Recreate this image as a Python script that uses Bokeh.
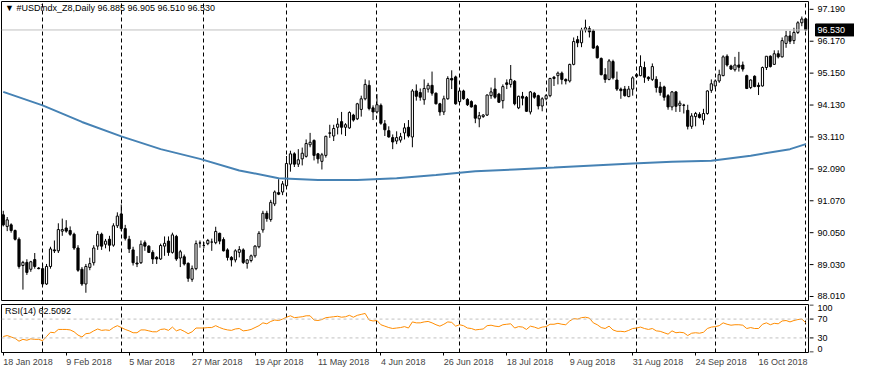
from bokeh.plotting import figure
from bokeh.layouts import column, row
from bokeh.models import (ColumnDataSource, Range1d, FixedTicker, Grid, Span, Label)
from bokeh.core.properties import value
from bokeh.embed import file_html
from bokeh.resources import INLINE

symbol = "#USDindx_Z8,Daily"

opens = [
    90.62, 90.25, 90.30, 90.12, 89.84, 89.00, 89.10, 88.88, 89.19, 88.92,
    88.90, 88.41, 88.97, 89.50, 89.47, 90.10, 90.20, 90.12, 90.00, 89.56,
    88.88, 88.41, 88.94, 89.09, 89.62, 90.00, 89.68, 89.84, 89.65, 90.27,
    90.65, 90.18, 89.84, 89.50, 89.08, 89.09, 89.73, 89.62, 89.42, 89.26,
    89.21, 89.62, 89.78, 89.42, 89.93, 89.24, 89.28, 89.07, 88.56, 88.90,
    89.72, 89.64, 89.70, 89.75, 89.73, 90.03, 89.83, 89.50, 89.26, 89.18,
    89.42, 89.50, 89.07, 89.16, 89.31, 89.60, 90.14, 90.67, 90.47, 90.97,
    91.33, 91.35, 91.55, 92.24, 92.57, 92.24, 92.41, 92.49, 92.86, 93.00,
    92.57, 92.33, 92.52, 93.24, 93.14, 93.42, 93.60, 93.42, 93.40, 93.81,
    93.69, 93.99, 94.33, 94.76, 94.04, 93.91, 94.12, 93.53, 93.31, 93.09,
    92.98, 93.01, 93.24, 93.42, 93.11, 94.58, 94.53, 94.30, 94.64, 94.76,
    94.51, 94.17, 93.91, 94.33, 94.98, 95.03, 94.24, 94.58, 94.31, 94.24,
    94.12, 93.69, 93.76, 93.81, 94.43, 94.64, 94.48, 94.27, 94.84, 94.79,
    94.89, 94.04, 94.41, 94.38, 93.91, 94.51, 94.43, 94.10, 94.33, 94.43,
    95.02, 95.07, 95.15, 94.95, 94.90, 95.43, 96.22, 96.12, 96.53, 96.57,
    96.50, 96.00, 95.62, 95.10, 94.95, 95.52, 94.93, 94.64, 94.64, 94.40,
    94.64, 95.10, 95.07, 95.33, 95.02, 94.95, 94.95, 94.71, 94.71, 94.43,
    94.07, 94.55, 94.12, 94.13, 93.96, 93.45, 93.76, 93.83, 93.65, 93.86,
    94.60, 94.74, 94.90, 95.07, 95.69, 95.38, 95.26, 95.41, 95.41, 95.07,
    94.69, 95.05, 94.76, 94.74, 95.33, 95.69, 95.43, 95.77, 95.67, 96.10,
    96.34, 96.19, 96.45, 96.76, 96.885,
]
highs = [
    90.75, 90.55, 90.35, 90.15, 89.90, 89.15, 89.20, 89.15, 89.40, 88.95,
    89.05, 89.05, 89.60, 89.80, 90.35, 90.50, 90.45, 90.25, 90.05, 89.65,
    88.95, 89.05, 89.25, 89.65, 90.10, 90.05, 89.85, 89.95, 90.35, 90.70,
    90.95, 90.30, 89.95, 89.60, 89.30, 89.80, 89.80, 89.65, 89.49, 89.30,
    89.70, 89.93, 89.93, 90.05, 89.98, 89.50, 89.35, 89.10, 89.00, 89.80,
    89.80, 89.75, 89.85, 89.86, 90.24, 90.05, 89.90, 89.55, 89.30, 89.52,
    89.62, 89.55, 89.20, 89.35, 89.65, 90.10, 90.75, 90.75, 91.10, 91.40,
    91.76, 91.70, 92.50, 92.67, 92.62, 92.72, 92.77, 93.03, 93.24, 93.03,
    92.60, 92.60, 93.15, 93.50, 93.50, 93.71, 93.91, 93.55, 93.93, 93.85,
    94.20, 94.43, 94.95, 94.92, 94.12, 94.48, 94.18, 93.65, 93.45, 93.19,
    93.29, 93.24, 93.55, 93.65, 94.64, 94.79, 94.66, 94.95, 94.84, 95.20,
    94.53, 94.20, 94.43, 95.05, 95.24, 95.07, 94.60, 94.62, 94.35, 94.28,
    94.15, 93.91, 93.84, 94.47, 94.69, 95.00, 94.52, 94.79, 94.95, 95.41,
    94.93, 94.43, 94.55, 94.42, 94.58, 94.55, 94.46, 94.38, 94.48, 95.00,
    95.06, 95.20, 95.20, 94.98, 95.45, 96.29, 96.34, 96.60, 96.86, 96.65,
    96.55, 96.05, 95.65, 95.31, 95.60, 95.58, 95.20, 94.69, 94.74, 94.74,
    95.05, 95.15, 95.72, 95.52, 95.05, 95.46, 95.05, 94.87, 94.75, 94.48,
    94.58, 94.58, 94.27, 94.17, 94.14, 93.87, 93.91, 93.90, 94.01, 94.60,
    94.95, 94.95, 95.26, 95.72, 95.75, 95.42, 95.67, 95.83, 95.52, 95.10,
    94.95, 95.08, 94.85, 95.36, 95.69, 95.72, 95.88, 95.88, 96.29, 96.50,
    96.50, 96.60, 96.81, 96.96, 96.905,
]
lows = [
    90.25, 90.10, 90.05, 89.80, 88.90, 88.23, 88.70, 88.80, 88.90, 88.88,
    88.35, 88.38, 88.90, 89.40, 89.40, 89.95, 90.05, 89.95, 89.50, 88.80,
    88.35, 88.13, 88.85, 89.00, 89.50, 89.50, 89.55, 89.45, 89.60, 90.20,
    90.10, 89.80, 89.40, 89.00, 88.95, 89.05, 89.47, 89.40, 89.05, 89.05,
    89.18, 89.31, 89.31, 89.38, 89.15, 88.95, 89.00, 88.48, 88.48, 88.85,
    89.57, 89.55, 89.65, 89.47, 89.68, 89.68, 89.45, 89.16, 88.97, 89.10,
    89.26, 89.05, 88.90, 89.10, 89.25, 89.55, 90.05, 90.40, 90.40, 90.90,
    91.25, 91.25, 91.50, 92.00, 92.15, 92.15, 92.20, 92.45, 92.78, 92.36,
    92.26, 92.07, 92.45, 93.08, 92.98, 93.19, 93.19, 93.14, 93.37, 93.60,
    93.65, 93.76, 94.28, 93.96, 93.65, 93.86, 93.50, 93.14, 93.09, 92.72,
    92.88, 92.93, 93.03, 93.09, 92.78, 94.27, 94.27, 94.14, 94.53, 94.43,
    94.15, 93.79, 93.81, 94.30, 94.64, 94.14, 94.20, 94.30, 94.10, 94.05,
    93.55, 93.42, 93.72, 93.78, 94.33, 94.33, 94.20, 94.02, 94.64, 94.69,
    94.12, 94.00, 94.12, 93.91, 93.83, 94.33, 93.99, 93.93, 94.28, 94.38,
    94.74, 94.79, 94.79, 94.79, 94.85, 95.40, 95.98, 95.98, 96.45, 96.29,
    95.93, 95.62, 95.08, 94.84, 94.92, 94.95, 94.58, 94.33, 94.40, 94.38,
    94.43, 95.00, 95.05, 94.84, 94.90, 94.90, 94.53, 94.43, 94.27, 93.98,
    93.96, 93.91, 93.91, 93.86, 93.35, 93.37, 93.45, 93.70, 93.50, 93.82,
    94.52, 94.65, 94.84, 95.05, 95.36, 95.25, 95.20, 95.20, 95.20, 94.64,
    94.64, 94.70, 94.45, 94.72, 95.25, 95.33, 95.41, 95.62, 95.65, 95.96,
    96.08, 96.08, 96.40, 96.65, 96.51,
]
closes = [
    90.30, 90.46, 90.12, 89.84, 88.97, 89.10, 88.78, 89.12, 88.97, 88.90,
    88.41, 88.97, 89.53, 89.47, 90.15, 90.15, 90.10, 90.00, 89.56, 88.85,
    88.41, 88.97, 89.06, 89.56, 90.00, 89.62, 89.78, 89.65, 90.27, 90.58,
    90.18, 89.87, 89.53, 89.09, 89.05, 89.68, 89.62, 89.42, 89.21, 89.21,
    89.64, 89.71, 89.42, 89.98, 89.21, 89.44, 89.05, 88.59, 88.90, 89.70,
    89.72, 89.64, 89.80, 89.75, 90.09, 89.78, 89.47, 89.26, 89.18, 89.47,
    89.51, 89.10, 89.18, 89.31, 89.62, 90.03, 90.67, 90.50, 91.02, 91.35,
    91.28, 91.61, 92.26, 92.57, 92.24, 92.38, 92.59, 92.90, 92.94, 92.52,
    92.41, 92.54, 93.13, 93.23, 93.38, 93.52, 93.42, 93.50, 93.89, 93.65,
    94.17, 94.33, 94.79, 94.02, 93.91, 94.14, 93.55, 93.34, 93.11, 92.95,
    93.09, 93.12, 93.40, 93.14, 94.58, 94.41, 94.38, 94.66, 94.76, 94.51,
    94.17, 93.91, 94.33, 94.98, 94.93, 94.17, 94.58, 94.33, 94.14, 94.07,
    93.71, 93.79, 93.81, 94.45, 94.55, 94.38, 94.22, 94.72, 94.79, 94.95,
    94.17, 94.41, 94.35, 93.93, 94.55, 94.38, 94.10, 94.33, 94.43, 94.98,
    94.98, 95.15, 94.95, 94.90, 95.43, 96.16, 96.12, 96.53, 96.60, 96.47,
    95.95, 95.64, 95.10, 94.95, 95.54, 95.00, 94.64, 94.59, 94.43, 94.64,
    95.00, 95.05, 95.36, 95.02, 94.97, 95.36, 94.69, 94.53, 94.38, 94.07,
    94.55, 94.09, 94.19, 94.12, 93.45, 93.78, 93.86, 93.73, 93.86, 94.58,
    94.81, 94.90, 95.10, 95.67, 95.41, 95.28, 95.41, 95.34, 95.28, 94.66,
    94.93, 94.72, 94.72, 95.33, 95.69, 95.36, 95.77, 95.67, 96.19, 96.34,
    96.17, 96.45, 96.76, 96.88, 96.53,
]

# 200-period moving average, read at every 10th bar
ma_bars = [0, 10, 20, 30, 40, 50, 60, 70, 80, 90, 100, 110, 120, 130, 140,
           150, 160, 170, 180, 190, 200, 204]
ma_vals = [94.55, 94.12, 93.59, 93.13, 92.72, 92.41, 92.04, 91.79, 91.73, 91.73,
           91.79, 91.89, 92.01, 92.07, 92.13, 92.20, 92.26, 92.32, 92.35, 92.51,
           92.72, 92.88]

rsi = [
    33, 35, 32, 29, 23, 27, 25, 28, 27, 27,
    24, 33, 42, 41, 48, 48, 48, 47, 43, 36,
    32, 39, 40, 45, 49, 46, 47, 46, 52, 56,
    52, 48, 45, 41, 41, 47, 47, 45, 43, 43,
    48, 49, 46, 53, 45, 48, 44, 39, 43, 51,
    51, 51, 52, 52, 56, 52, 49, 47, 46, 49,
    50, 45, 46, 48, 52, 56, 62, 60, 65, 68,
    67, 70, 74, 77, 73, 74, 75, 77, 77, 68,
    67, 69, 73, 74, 75, 76, 74, 75, 78, 74,
    78, 80, 82, 68, 66, 67, 58, 55, 52, 50,
    51, 52, 54, 51, 64, 62, 62, 64, 65, 62,
    58, 55, 59, 64, 63, 55, 58, 56, 51, 50,
    47, 48, 49, 56, 57, 55, 54, 58, 59, 60,
    51, 54, 53, 48, 55, 53, 50, 53, 54, 59,
    59, 61, 59, 58, 66, 71, 70, 73, 74, 72,
    62, 58, 52, 50, 55, 47, 44, 44, 43, 46,
    50, 51, 53, 50, 48, 50, 45, 44, 41, 38,
    45, 41, 42, 41, 35, 40, 41, 40, 42, 50,
    53, 54, 56, 62, 59, 57, 58, 58, 57, 50,
    52, 50, 50, 59, 62, 58, 61, 60, 66, 67,
    64, 67, 69, 70, 62.5092,
]

price_ticks = [88.010, 89.030, 90.050, 91.070, 92.090, 93.110, 94.130, 95.150, 96.170, 97.190]
rsi_mid_ticks = [30, 70]
rsi_top_tick = [100]
rsi_bottom_tick = [0]
rsi_levels = [30, 70]
month_bars = [10, 30, 51, 72, 95, 116, 138, 161, 181, 204]
date_bars = [0, 16, 32, 48, 64, 80, 96, 112, 128, 144, 160, 176, 192]
date_labels = ["18 Jan 2018", "9 Feb 2018", "5 Mar 2018", "27 Mar 2018", "19 Apr 2018",
               "11 May 2018", "4 Jun 2018", "26 Jun 2018", "18 Jul 2018", "9 Aug 2018",
               "31 Aug 2018", "24 Sep 2018", "16 Oct 2018"]

FONT = "Liberation Sans"
FS = "9px"

n = len(closes)
idx = list(range(n))
src = ColumnDataSource(dict(
    x=idx, o=opens, h=highs, l=lows, c=closes,
    top=[max(a, b) for a, b in zip(opens, closes)],
    bot=[min(a, b) for a, b in zip(opens, closes)],
    fill=["white" if c >= o else "black" for o, c in zip(opens, closes)],
))

x0, x1 = -0.45, 204.7
xr = Range1d(x0, x1)
ylo, yhi = 87.85, 97.44
main_yr = Range1d(ylo, yhi)
rsi_yr = Range1d(-1, 101)

MAIN_H, RSI_H = 301, 73
LEFT_W, AX_W = 809, 45


def style(p):
    p.grid.visible = False
    p.background_fill_color = "white"
    p.border_fill_color = "white"


# ---------------- main price panel ----------------
main = figure(width=LEFT_W, height=MAIN_H, x_range=xr, y_range=main_yr,
              x_axis_location=None, y_axis_location=None,
              output_backend="svg", toolbar_location=None,
              min_border_left=1, min_border_right=1, min_border_top=1, min_border_bottom=0)
style(main)
main.outline_line_color = "black"
main.add_layout(Grid(dimension=0, ticker=FixedTicker(ticks=month_bars), grid_line_color="black",
                     grid_line_dash="4 3", grid_line_width=1))
main.add_layout(Span(location=closes[-1], dimension="width", line_color="#C0C0C0", line_width=1))
main.segment(x0="x", y0="l", x1="x", y1="h", source=src, line_color="black", line_width=1)
main.vbar(x="x", width=0.55, top="top", bottom="bot", source=src,
          fill_color="fill", line_color="black", line_width=1)
main.line(ma_bars, ma_vals, line_color="#4682B4", line_width=2)

header = "\u25BC " + symbol + "  " + " ".join(
    "%.3f" % v for v in (opens[-1], highs[-1], lows[-1], closes[-1]))
main.add_layout(Label(x=x0 + 0.9, y=yhi - 0.06, text=header, text_baseline="top",
                      text_font=FONT, text_font_size=FS, text_color="black"))

# price scale (right)
pax = figure(width=AX_W, height=MAIN_H, x_range=Range1d(0, AX_W), y_range=main_yr,
             x_axis_location=None, y_axis_location=None,
             output_backend="svg", toolbar_location=None,
             min_border_left=0, min_border_right=0, min_border_top=1, min_border_bottom=0)
style(pax)
pax.outline_line_color = None
pax.segment(x0=[0] * len(price_ticks), y0=price_ticks, x1=[4] * len(price_ticks), y1=price_ticks,
            line_color="black", line_width=1)
pax.text(x=[8] * len(price_ticks), y=price_ticks, text=["%.3f" % t for t in price_ticks],
         text_baseline="middle", text_align="left", text_font=value(FONT),
         text_font_size=value(FS), text_color="black")
pax.rect(x=[25.5], y=[closes[-1]], width=[39], height=[12], height_units="screen",
         fill_color="black", line_color="black")
pax.text(x=[8], y=[closes[-1]], text=["%.3f" % closes[-1]], text_baseline="middle",
         text_align="left", text_font=value(FONT), text_font_size=value(FS), text_color="white")

# ---------------- RSI panel ----------------
rp = figure(width=LEFT_W, height=RSI_H, x_range=xr, y_range=rsi_yr,
            y_axis_location=None, output_backend="svg", toolbar_location=None,
            min_border_left=1, min_border_right=1, min_border_top=3, min_border_bottom=18)
style(rp)
rp.outline_line_color = "black"
rp.add_layout(Grid(dimension=0, ticker=FixedTicker(ticks=month_bars), grid_line_color="black",
                   grid_line_dash="4 3", grid_line_width=1))
for lv in rsi_levels:
    rp.add_layout(Span(location=lv, dimension="width", line_color="#C0C0C0",
                       line_dash="3 3", line_width=1))
rp.line(idx, rsi, line_color="#FF8C00", line_width=1)
rp.add_layout(Label(x=x0 + 0.9, y=97, text="RSI(14) %.4f" % rsi[-1], text_baseline="top",
                    text_font=FONT, text_font_size=FS, text_color="black"))

rx = rp.xaxis[0]
rx.ticker = FixedTicker(ticks=date_bars)
rx.major_label_overrides = {b: t for b, t in zip(date_bars, date_labels)}
rx.major_label_orientation = -1e-6
rx.major_label_text_font = FONT
rx.major_label_text_font_size = FS
rx.axis_line_color = None
rx.major_tick_out = 3
rx.major_tick_in = 0
rx.minor_tick_out = 0
rx.minor_tick_in = 0
rx.major_label_standoff = 6

# RSI scale (right)
rax = figure(width=AX_W, height=RSI_H, x_range=Range1d(0, AX_W), y_range=rsi_yr,
             x_axis_location=None, y_axis_location=None,
             output_backend="svg", toolbar_location=None,
             min_border_left=0, min_border_right=0, min_border_top=3, min_border_bottom=18)
style(rax)
rax.outline_line_color = None
all_rsi_ticks = rsi_top_tick + rsi_mid_ticks + rsi_bottom_tick
rax.segment(x0=[0] * 4, y0=all_rsi_ticks, x1=[4] * 4, y1=all_rsi_ticks,
            line_color="black", line_width=1)
rax.text(x=[8] * len(rsi_mid_ticks), y=rsi_mid_ticks, text=[str(t) for t in rsi_mid_ticks],
         text_baseline="middle", text_font=value(FONT), text_font_size=value(FS))
rax.text(x=[8], y=rsi_top_tick, text=[str(t) for t in rsi_top_tick],
         text_baseline="top", text_font=value(FONT), text_font_size=value(FS))
rax.text(x=[8], y=rsi_bottom_tick, text=[str(t) for t in rsi_bottom_tick],
         text_baseline="bottom", text_font=value(FONT), text_font_size=value(FS))

layout = column(row(main, pax, spacing=0), row(rp, rax, spacing=0), spacing=0)
open("out.html", "w").write(file_html(layout, INLINE))
